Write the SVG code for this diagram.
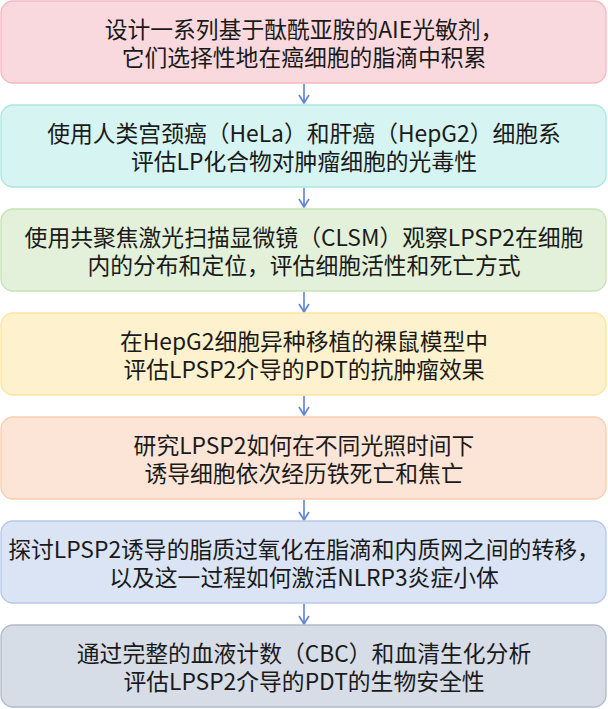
<svg xmlns="http://www.w3.org/2000/svg" width="608" height="709" viewBox="0 0 608 709">
<style>
.box{stroke-width:1.3}
.t{font-family:"Noto Sans CJK SC","Microsoft YaHei",sans-serif;font-size:22.8px;fill:#1a1a1a;text-anchor:middle}
.c{stroke:#5b80d6;stroke-width:1.6;fill:none}
</style>
<defs>
<marker id="ah" markerWidth="12" markerHeight="12" refX="10" refY="6" orient="auto" markerUnits="userSpaceOnUse" viewBox="0 0 12 12">
<path d="M2,1 L10,6 L2,11" fill="none" stroke="#5b80d6" stroke-width="1.6"/>
</marker>
</defs>
<rect width="608" height="709" fill="#ffffff"/>
<g id="connectors">
<line class="c" x1="304" y1="84" x2="304" y2="103" marker-end="url(#ah)"/>
<line class="c" x1="304" y1="188" x2="304" y2="207" marker-end="url(#ah)"/>
<line class="c" x1="304" y1="292" x2="304" y2="312" marker-end="url(#ah)"/>
<line class="c" x1="304" y1="396" x2="304" y2="415" marker-end="url(#ah)"/>
<line class="c" x1="304" y1="500" x2="304" y2="520" marker-end="url(#ah)"/>
<line class="c" x1="304" y1="604" x2="304" y2="624" marker-end="url(#ah)"/>
</g>
<g id="n1">
<rect class="box" x="1" y="1" width="605" height="82" rx="12" fill="#f9d9dd" stroke="#f3b9c2"/>
<text class="t" x="304" y="38">设计一系列基于酞酰亚胺的AIE光敏剂，<tspan x="304" dy="28">它们选择性地在癌细胞的脂滴中积累</tspan></text>
</g>
<g id="n2">
<rect class="box" x="1" y="105" width="605" height="82" rx="12" fill="#d6f4f1" stroke="#abe7e1"/>
<text class="t" x="304" y="142">使用人类宫颈癌（HeLa）和肝癌（HepG2）细胞系<tspan x="304" dy="28">评估LP化合物对肿瘤细胞的光毒性</tspan></text>
</g>
<g id="n3">
<rect class="box" x="1" y="209" width="605" height="82" rx="12" fill="#e3f1da" stroke="#c7e2b6"/>
<text class="t" x="304" y="246">使用共聚焦激光扫描显微镜（CLSM）观察LPSP2在细胞<tspan x="304" dy="28">内的分布和定位，评估细胞活性和死亡方式</tspan></text>
</g>
<g id="n4">
<rect class="box" x="1" y="313" width="605" height="82" rx="12" fill="#fdf2cd" stroke="#fbe59e"/>
<text class="t" x="304" y="350">在HepG2细胞异种移植的裸鼠模型中<tspan x="304" dy="28">评估LPSP2介导的PDT的抗肿瘤效果</tspan></text>
</g>
<g id="n5">
<rect class="box" x="1" y="417" width="605" height="82" rx="12" fill="#fce5d6" stroke="#f8cdb0"/>
<text class="t" x="304" y="454">研究LPSP2如何在不同光照时间下<tspan x="304" dy="28">诱导细胞依次经历铁死亡和焦亡</tspan></text>
</g>
<g id="n6">
<rect class="box" x="1" y="521" width="605" height="82" rx="12" fill="#dbe4f4" stroke="#b6c8e8"/>
<text class="t" x="304" y="558">探讨LPSP2诱导的脂质过氧化在脂滴和内质网之间的转移，<tspan x="304" dy="28">以及这一过程如何激活NLRP3炎症小体</tspan></text>
</g>
<g id="n7">
<rect class="box" x="1" y="625" width="605" height="82" rx="12" fill="#d7dde6" stroke="#b0bbcb"/>
<text class="t" x="304" y="662">通过完整的血液计数（CBC）和血清生化分析<tspan x="304" dy="28">评估LPSP2介导的PDT的生物安全性</tspan></text>
</g>
</svg>
